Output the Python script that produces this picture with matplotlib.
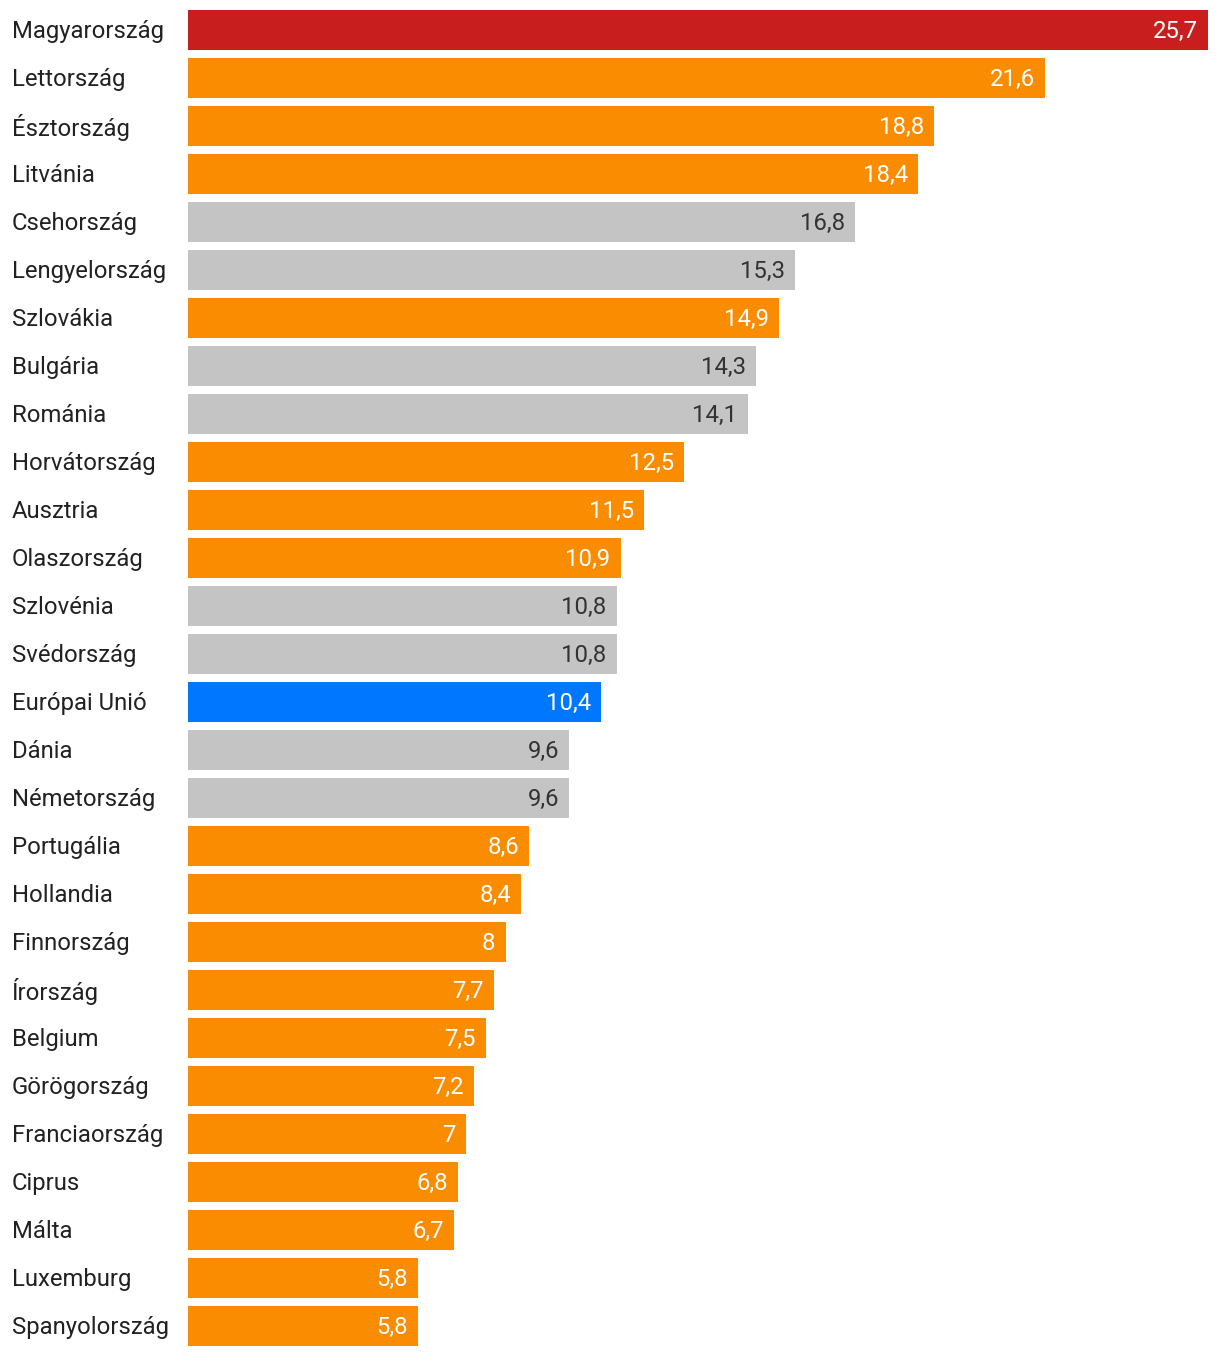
import matplotlib
matplotlib.use('Agg')
from matplotlib import pyplot as plt

filename = 'out.png'

countries = ['Magyarország', 'Lettország', 'Észtország', 'Litvánia', 'Csehország',
             'Lengyelország', 'Szlovákia', 'Bulgária', 'Románia', 'Horvátország',
             'Ausztria', 'Olaszország', 'Szlovénia', 'Svédország', 'Európai Unió',
             'Dánia', 'Németország', 'Portugália', 'Hollandia', 'Finnország',
             'Írország', 'Belgium', 'Görögország', 'Franciaország', 'Ciprus',
             'Málta', 'Luxemburg', 'Spanyolország']
values = [25.7, 21.6, 18.8, 18.4, 16.8, 15.3, 14.9, 14.3, 14.1, 12.5, 11.5, 10.9,
          10.8, 10.8, 10.4, 9.6, 9.6, 8.6, 8.4, 8, 7.7, 7.5, 7.2, 7, 6.8, 6.7, 5.8, 5.8]
# h = highlighted, e = euro member, o = other, u = EU average
groups = ['h', 'e', 'e', 'e', 'o', 'o', 'e', 'o', 'o', 'e', 'e', 'e', 'o', 'o', 'u',
          'o', 'o', 'e', 'e', 'e', 'e', 'e', 'e', 'e', 'e', 'e', 'e', 'e']

bar_colors = {'h': '#C91E1E', 'e': '#F98C00', 'o': '#C4C4C4', 'u': '#0077FF'}
text_colors = {'h': 'white', 'e': 'white', 'o': '#333333', 'u': 'white'}

plt.rcParams['font.family'] = ['Roboto', 'DejaVu Sans']

W, H = 1220, 1356
fig = plt.figure(figsize=(W / 100, H / 100), dpi=100)
ax = fig.add_axes([188 / W, 6 / H, 1020 / W, 1344 / H])

n = len(countries)
ypos = list(range(n))
ax.barh(ypos, values, height=40 / 48, color=[bar_colors[g] for g in groups])
ax.set_xlim(0, max(values))
ax.set_ylim(n - 0.5, -0.5)
ax.axis('off')

for y, name, v, g in zip(ypos, countries, values, groups):
    label = f'{v:g}'.replace('.', ',')
    ax.annotate(label, (v, y), xytext=(-10, 1), textcoords='offset pixels',
                ha='right', va='center_baseline', color=text_colors[g], fontsize=17.2)
    ax.annotate(name, (0, y), xycoords=('figure pixels', 'data'),
                xytext=(12, 1), textcoords='offset pixels',
                ha='left', va='center_baseline', color='#212121', fontsize=17.2)

plt.savefig(filename, dpi=100, facecolor='white')
plt.close()
